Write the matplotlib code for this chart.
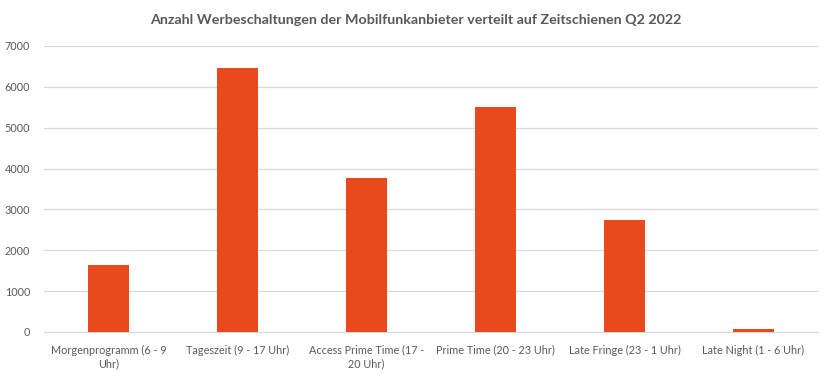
import matplotlib
matplotlib.use("Agg")
import matplotlib.pyplot as plt

categories = ["Morgenprogramm (6 - 9\nUhr)", "Tageszeit (9 - 17 Uhr)", "Access Prime Time (17 -\n20 Uhr)",
              "Prime Time (20 - 23 Uhr)", "Late Fringe (23 - 1 Uhr)", "Late Night (1 - 6 Uhr)"]
values = [1650, 6470, 3780, 5500, 2750, 80]
yticks = [0, 1000, 2000, 3000, 4000, 5000, 6000, 7000]
title = "Anzahl Werbeschaltungen der Mobilfunkanbieter verteilt auf Zeitschienen Q2 2022"

plt.rcParams['font.family'] = ['Lato', 'DejaVu Sans']
fig = plt.figure(figsize=(8.32, 3.79), dpi=100)
ax = fig.add_axes([44/832, 1 - 332/379, (818-44)/832, (332-46)/379])
x = list(range(len(categories)))
ax.bar(x, values, width=0.32, color="#E8491D", zorder=3)
ax.set_xlim(-0.5, len(categories) - 0.5)
ax.set_ylim(0, 7000)
ax.set_yticks(yticks)
ax.set_yticklabels([str(v) for v in yticks])
ax.set_xticks(x)
ax.set_xticklabels(categories, linespacing=1.3)
ax.grid(axis='y', color="#D9D9D9", linewidth=0.9, zorder=0)
for s in ['top', 'right', 'left']:
    ax.spines[s].set_visible(False)
ax.spines['bottom'].set_color("#D9D9D9")
ax.tick_params(axis='both', length=0, labelsize=7.8, colors="#595959")
ax.tick_params(axis='y', pad=10)
ax.tick_params(axis='x', pad=9)
fig.text(0.5, 1 - 20/379, title, ha='center', va='center', fontsize=10.3, fontweight='bold', color="#595959")
fig.savefig("out.png", dpi=100, facecolor="white")
